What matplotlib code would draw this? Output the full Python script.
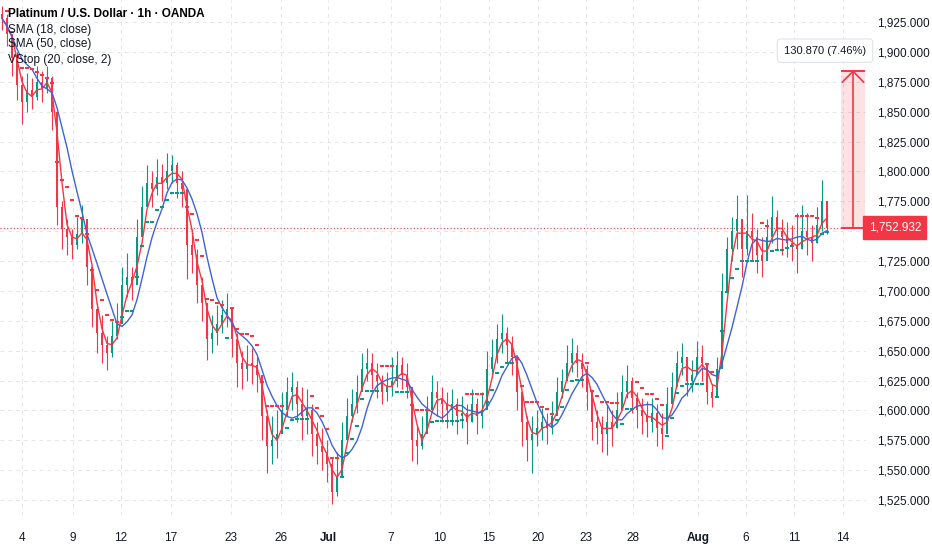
import numpy as np
import pandas as pd
import matplotlib
matplotlib.use("Agg")
import matplotlib.pyplot as plt
import matplotlib.transforms as mtransforms

plt.rcParams["font.family"] = ["Liberation Sans", "DejaVu Sans"]

# =====================================
# DATA (compressed hourly candles)
# =====================================

closes = [
    1928, 1915, 1895, 1872, 1858, 1868, 1862, 1875, 1870, 1878,
    1850, 1770, 1752, 1745, 1738, 1748, 1760, 1720, 1685, 1665,
    1655, 1648, 1662, 1672, 1705, 1712, 1705, 1745, 1770, 1790,
    1785, 1795, 1790, 1800, 1805, 1790, 1785, 1738, 1730, 1705,
    1690, 1660, 1665, 1672, 1680, 1685, 1660, 1640, 1635, 1640,
    1638, 1630, 1595, 1570, 1575, 1580, 1600, 1615, 1620, 1605,
    1595, 1600, 1580, 1570, 1565, 1555, 1532, 1545, 1575, 1595,
    1605, 1615, 1635, 1640, 1630, 1625, 1615, 1620, 1625, 1638,
    1630, 1620, 1575, 1570, 1580, 1600, 1615, 1610, 1605, 1600,
    1605, 1595, 1598, 1590, 1605, 1595, 1600, 1635, 1645, 1660,
    1665, 1655, 1645, 1615, 1590, 1575, 1580, 1585, 1590, 1585,
    1595, 1615, 1625, 1640, 1648, 1640, 1635, 1615, 1590, 1585,
    1580, 1590, 1585, 1600, 1615, 1625, 1610, 1600, 1595, 1590,
    1598, 1585, 1580, 1605, 1620, 1640, 1645, 1625, 1630, 1645,
    1640, 1615, 1610, 1635, 1700, 1735, 1750, 1760, 1735, 1750,
    1745, 1730, 1725, 1745, 1762, 1750, 1745, 1740, 1738, 1735,
    1750, 1745, 1740, 1755, 1775, 1752.932,
]

highs = [
    1938, 1932, 1915, 1900, 1880, 1882, 1878, 1888, 1884, 1888,
    1880, 1800, 1775, 1760, 1752, 1762, 1772, 1745, 1720, 1690,
    1680, 1662, 1675, 1690, 1720, 1732, 1720, 1760, 1788, 1805,
    1800, 1810, 1806, 1815, 1814, 1808, 1800, 1760, 1752, 1735,
    1712, 1690, 1680, 1688, 1692, 1698, 1685, 1665, 1650, 1655,
    1652, 1645, 1625, 1600, 1595, 1600, 1615, 1628, 1632, 1625,
    1620, 1618, 1605, 1590, 1585, 1575, 1560, 1565, 1590, 1610,
    1618, 1630, 1648, 1652, 1648, 1640, 1630, 1632, 1645, 1650,
    1645, 1640, 1620, 1588, 1595, 1612, 1630, 1625, 1620, 1615,
    1618, 1610, 1612, 1605, 1618, 1610, 1615, 1650, 1660, 1672,
    1681, 1670, 1662, 1640, 1612, 1595, 1595, 1600, 1602, 1598,
    1608, 1628, 1635, 1655, 1661, 1655, 1648, 1638, 1612, 1600,
    1595, 1605, 1600, 1615, 1630, 1638, 1628, 1615, 1610, 1608,
    1610, 1605, 1598, 1620, 1632, 1650, 1656, 1645, 1642, 1658,
    1655, 1640, 1622, 1645, 1715, 1745, 1762, 1780, 1760, 1780,
    1765, 1752, 1745, 1760, 1779, 1768, 1760, 1758, 1755, 1765,
    1772, 1765, 1755, 1770, 1793, 1770,
]

lows = [
    1918, 1905, 1880, 1860, 1840, 1850, 1852, 1860, 1858, 1866,
    1835, 1755, 1735, 1730, 1727, 1735, 1740, 1705, 1670, 1648,
    1640, 1634, 1645, 1660, 1690, 1695, 1692, 1725, 1750, 1772,
    1770, 1780, 1775, 1785, 1790, 1778, 1770, 1710, 1715, 1690,
    1675, 1642, 1648, 1655, 1665, 1670, 1645, 1620, 1618, 1625,
    1622, 1615, 1575, 1548, 1555, 1560, 1585, 1595, 1600, 1590,
    1575, 1580, 1562, 1555, 1550, 1540, 1522, 1528, 1555, 1578,
    1590, 1598, 1620, 1625, 1618, 1610, 1605, 1608, 1612, 1620,
    1618, 1610, 1558, 1555, 1568, 1585, 1600, 1595, 1590, 1585,
    1588, 1580, 1585, 1572, 1590, 1580, 1585, 1610, 1630, 1640,
    1648, 1640, 1630, 1600, 1570, 1558, 1548, 1570, 1575, 1572,
    1580, 1600, 1610, 1625, 1632, 1628, 1620, 1600, 1575, 1572,
    1565, 1563, 1570, 1585, 1600, 1610, 1598, 1585, 1580, 1578,
    1582, 1570, 1568, 1590, 1605, 1622, 1630, 1612, 1615, 1632,
    1625, 1605, 1603, 1615, 1640, 1700, 1725, 1735, 1712, 1730,
    1725, 1715, 1712, 1728, 1740, 1735, 1730, 1728, 1725, 1715,
    1735, 1730, 1725, 1740, 1750, 1748,
]

tick_pos = [4.0, 14.2, 23.8, 33.8, 45.8, 55.8, 65.2, 77.8, 87.6, 97.4,
            107.2, 116.8, 126.2, 139.2, 148.8, 158.4, 168.2]
tick_labels = ["4", "9", "12", "17", "23", "26", "Jul", "7", "10", "15",
               "20", "23", "28", "Aug", "6", "11", "14"]

last_price = 1752.932
measure_move = 130.870
measure_pct = 7.46

# indicator windows, scaled to the compressed bar spacing
sma_fast_len = 3
sma_slow_len = 7
vstop_len = 4
vstop_mult = 0.8

UP = "#089981"
DOWN = "#f23645"
BLUE = "#3f63d6"
TEXT = "#131722"
GRID = "#e3e6ec"

# =====================================
# INDICATORS
# =====================================

df = pd.DataFrame({"close": closes, "high": highs, "low": lows})
df["open"] = df["close"].shift(1).fillna(df["close"].iloc[0] + 4)
n = len(df)
x = np.arange(n)

sma_fast = df["close"].rolling(sma_fast_len, min_periods=1).mean()
sma_slow = df["close"].rolling(sma_slow_len, min_periods=1).mean()

prev_close = df["close"].shift(1).fillna(df["close"])
tr = pd.concat([df["high"] - df["low"],
                (df["high"] - prev_close).abs(),
                (df["low"] - prev_close).abs()], axis=1).max(axis=1)
atr = tr.rolling(vstop_len, min_periods=1).mean() * vstop_mult

stops = []
trend = []
hi_src = lo_src = df["close"].iloc[0]
up = False
stop = df["close"].iloc[0] + atr.iloc[0]
for i in range(n):
    src = df["close"].iloc[i]
    hi_src = max(hi_src, src)
    lo_src = min(lo_src, src)
    if up:
        stop = max(stop, hi_src - atr.iloc[i])
    else:
        stop = min(stop, lo_src + atr.iloc[i])
    new_up = src - stop >= 0
    if new_up != up:
        hi_src = src
        lo_src = src
        stop = hi_src - atr.iloc[i] if new_up else lo_src + atr.iloc[i]
    up = new_up
    stops.append(stop)
    trend.append(up)
stops = np.array(stops)
trend = np.array(trend)

# =====================================
# FIGURE
# =====================================

fig = plt.figure(figsize=(9.32, 5.5), dpi=100)
ax = fig.add_axes([0, 35 / 550, 866 / 932, 515 / 550])

ax.set_xlim(-0.4, 172.8)
ax.set_ylim(1512.5, 1943.4)

# grid
yt = np.arange(1525, 1926, 25)
for v in yt:
    ax.axhline(v, color=GRID, lw=0.7, ls=(0, (4, 4)), zorder=0)
for p in tick_pos:
    ax.axvline(p, color=GRID, lw=0.7, ls=(0, (4, 4)), zorder=0)

# candles
for i in range(n):
    o = df["open"].iloc[i]
    c = df["close"].iloc[i]
    col = UP if c >= o else DOWN
    ax.vlines(x[i], df["low"].iloc[i], df["high"].iloc[i], color=col, lw=0.8, zorder=2)
    ax.bar(x[i], max(abs(c - o), 0.8), bottom=min(o, c), width=0.55,
           color=col, lw=0, zorder=2)

# moving averages
ax.plot(x, sma_fast, color=DOWN, lw=1.0, zorder=3)
ax.plot(x, sma_slow, color=BLUE, lw=1.0, zorder=3)

# volatility stop
ax.scatter(x[trend], stops[trend], marker="_", s=7, color=UP, lw=1.5, zorder=3)
ax.scatter(x[~trend], stops[~trend], marker="_", s=7, color=DOWN, lw=1.5, zorder=3)

# last price line
ax.axhline(last_price, color=DOWN, lw=0.8, ls=(0, (1, 2)), zorder=1)

# =====================================
# MEASURE TOOL
# =====================================

m_left = n + 1.8
m_right = n + 6.6
m_mid = (m_left + m_right) / 2
m_top = last_price + measure_move
ax.fill_between([m_left, m_right], last_price, m_top, color=DOWN, alpha=0.15, lw=0, zorder=1)
ax.hlines([last_price, m_top], m_left, m_right, color=DOWN, lw=1.4, zorder=4)
ax.vlines(m_mid, last_price, m_top, color=DOWN, lw=1.2, zorder=4)
ax.plot([m_left + 0.3, m_mid, m_right - 0.3], [m_top - 9, m_top, m_top - 9],
        color=DOWN, lw=1.2, zorder=4)
ax.text(164.6, 1901, f"{measure_move:.3f} ({measure_pct:.2f}%)", ha="center", va="center",
        fontsize=8, color=TEXT, zorder=6,
        bbox=dict(boxstyle="round,pad=0.6,rounding_size=0.3", fc="white", ec="#e0e3eb", lw=0.8))

# =====================================
# AXES / LABELS
# =====================================

for s in ax.spines.values():
    s.set_visible(False)

ax.yaxis.tick_right()
ax.set_yticks(yt)
ax.set_yticklabels(["" if v == 1750 else f"{v:,.3f}" for v in yt])
ax.tick_params(axis="y", length=0, pad=8, labelsize=8.5, labelcolor=TEXT)
ax.set_xticks(tick_pos)
ax.set_xticklabels(tick_labels)
ax.tick_params(axis="x", length=0, pad=12, labelsize=8.5, labelcolor=TEXT)
for lbl in ax.get_xticklabels():
    if lbl.get_text() in ("Jul", "Aug"):
        lbl.set_fontweight("bold")

trans = mtransforms.blended_transform_factory(ax.transAxes, ax.transData)
ax.text(1.003, last_price, f"{last_price:,.3f}", transform=trans, ha="left", va="center",
        fontsize=8.5, color="white", zorder=10, clip_on=False,
        bbox=dict(boxstyle="square,pad=0.45", fc=DOWN, ec=DOWN))

# legend text
fig.text(8 / 932, 1 - 14 / 550, "Platinum / U.S. Dollar · 1h · OANDA", fontsize=8.5,
         fontweight="bold", color="black", va="center")
for k, t in enumerate(["SMA (18, close)", "SMA (50, close)", "VStop (20, close, 2)"]):
    fig.text(8 / 932, 1 - (29.5 + 15 * k) / 550, t, fontsize=8.5, color=TEXT, va="center")

fig.savefig("out.png", dpi=100)
plt.close(fig)
